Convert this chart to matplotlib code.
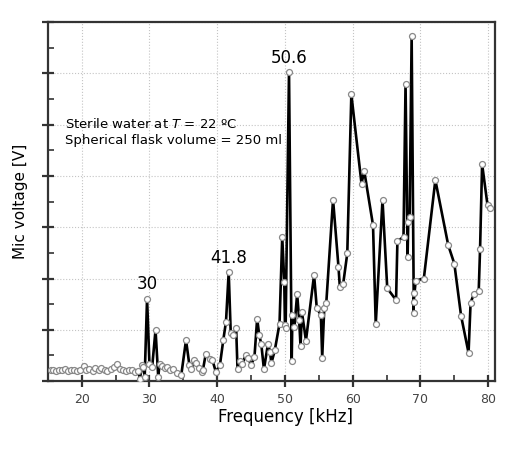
import matplotlib.pyplot as plt
from matplotlib.ticker import MultipleLocator

# frequency [kHz] and mic voltage (arbitrary units)
freq = [15.4, 15.8, 16.2, 16.7, 17.1, 17.6, 18.0, 18.4, 18.9, 19.3,
        19.8, 20.3, 20.7, 21.1, 21.6, 22.0, 22.5, 22.9, 23.4, 23.8,
        24.3, 24.8, 25.2, 25.6, 26.1, 26.5, 27.0, 27.4, 27.9, 28.3,
        28.6, 28.9, 29.1, 29.3, 29.65, 30.0, 30.4, 30.9, 31.3, 31.5,
        31.9, 32.3, 32.6, 33.1, 33.5, 34.1, 34.7, 35.4, 35.9, 36.2,
        36.6, 36.9, 37.3, 37.7, 37.9, 38.3, 38.9, 39.3, 39.8, 40.4,
        40.9, 41.3, 41.7, 42.0, 42.3, 42.8, 43.0, 43.3, 43.7, 44.2,
        44.6, 45.0, 45.5, 45.9, 46.2, 46.5, 46.9, 47.5, 47.8, 48.0,
        48.5, 49.2, 49.6, 49.9, 50.0, 50.1, 50.6, 51.0, 51.1, 51.4,
        51.8, 52.1, 52.3, 52.5, 53.1, 54.3, 54.7, 55.3, 55.5, 55.8,
        56.1, 57.1, 57.9, 58.1, 58.6, 59.2, 59.8, 61.3, 61.7, 63.0,
        63.4, 64.4, 65.1, 66.4, 66.6, 67.5, 67.8, 68.1, 68.2, 68.4,
        68.7, 69.0, 69.0, 69.0, 69.3, 70.5, 72.2, 74.1, 75.0, 76.0,
        77.1, 77.4, 77.9, 78.6, 78.8, 79.1, 79.9, 80.3]
volt = [0.21, 0.22, 0.20, 0.22, 0.21, 0.23, 0.20, 0.22, 0.21, 0.19,
        0.22, 0.30, 0.21, 0.24, 0.20, 0.25, 0.22, 0.26, 0.21, 0.20,
        0.23, 0.27, 0.34, 0.24, 0.21, 0.19, 0.22, 0.21, 0.18, 0.20,
        0.05, 0.31, 0.28, 0.08, 1.61, 0.34, 0.27, 1.00, 0.08, 0.34,
        0.30, 0.25, 0.28, 0.22, 0.24, 0.15, 0.12, 0.80, 0.31, 0.23,
        0.41, 0.35, 0.26, 0.17, 0.22, 0.52, 0.44, 0.41, 0.18, 0.31,
        0.80, 1.16, 2.13, 0.93, 0.90, 1.03, 0.23, 0.39, 0.33, 0.51,
        0.45, 0.31, 0.47, 1.22, 0.90, 0.73, 0.23, 0.73, 0.57, 0.35,
        0.60, 1.12, 2.81, 1.94, 1.09, 1.03, 6.03, 0.40, 1.29, 1.06,
        1.70, 1.19, 0.68, 1.35, 0.79, 2.07, 1.42, 1.29, 0.46, 1.42,
        1.52, 3.54, 2.23, 1.84, 1.90, 2.49, 5.59, 3.85, 4.10, 3.04,
        1.11, 3.53, 1.81, 1.58, 2.73, 2.81, 5.80, 2.41, 3.11, 3.20,
        6.73, 1.72, 1.32, 1.55, 1.96, 2.00, 3.92, 2.65, 2.29, 1.27,
        0.55, 1.53, 1.70, 1.76, 2.58, 4.23, 3.43, 3.37]

peak_labels = ['30', '41.8', '50.6']
peak_freq = [29.65, 41.7, 50.6]
peak_volt = [1.61, 2.13, 6.03]

fig = plt.figure(figsize=(5.14, 4.51), dpi=100)
ax = fig.add_axes([0.093, 0.155, 0.87, 0.796])

ax.plot(freq, volt, color='black', lw=1.9, marker='o', ms=4.3,
        mfc='white', mec='#888888', mew=0.9, zorder=3)

for lab, f, v in zip(peak_labels, peak_freq, peak_volt):
    ax.text(f, v + 0.1, lab, ha='center', va='bottom', fontsize=12)

ax.text(17.5, 4.86, 'Sterile water at $\\it{T}$ = 22 ºC\nSpherical flask volume = 250 ml',
        fontsize=9.5, va='center', ha='left', linespacing=1.25)

ax.set_xlim(15, 81)
ax.set_ylim(0, 7)
ax.xaxis.set_major_locator(MultipleLocator(10))
ax.xaxis.set_minor_locator(MultipleLocator(5))
ax.yaxis.set_major_locator(MultipleLocator(1))
ax.yaxis.set_minor_locator(MultipleLocator(0.5))
ax.set_yticklabels([])
ax.tick_params(which='major', direction='inout', length=9, width=1.6,
               color='#333333', labelsize=9, labelcolor='#444444')
ax.tick_params(which='minor', direction='in', length=4, width=1.2, color='#333333')
ax.tick_params(axis='x', pad=4)

ax.grid(True, which='major', color='#c4c4c4', ls=':', lw=0.8)
for s in ax.spines.values():
    s.set_color('#333333')
    s.set_linewidth(1.6)

ax.set_xlabel('Frequency [kHz]', fontsize=12, labelpad=1)
ax.xaxis.set_label_coords(0.532, -0.075)
ax.set_ylabel('Mic voltage [V]', fontsize=11, labelpad=6)

fig.savefig('out.png', dpi=100)
